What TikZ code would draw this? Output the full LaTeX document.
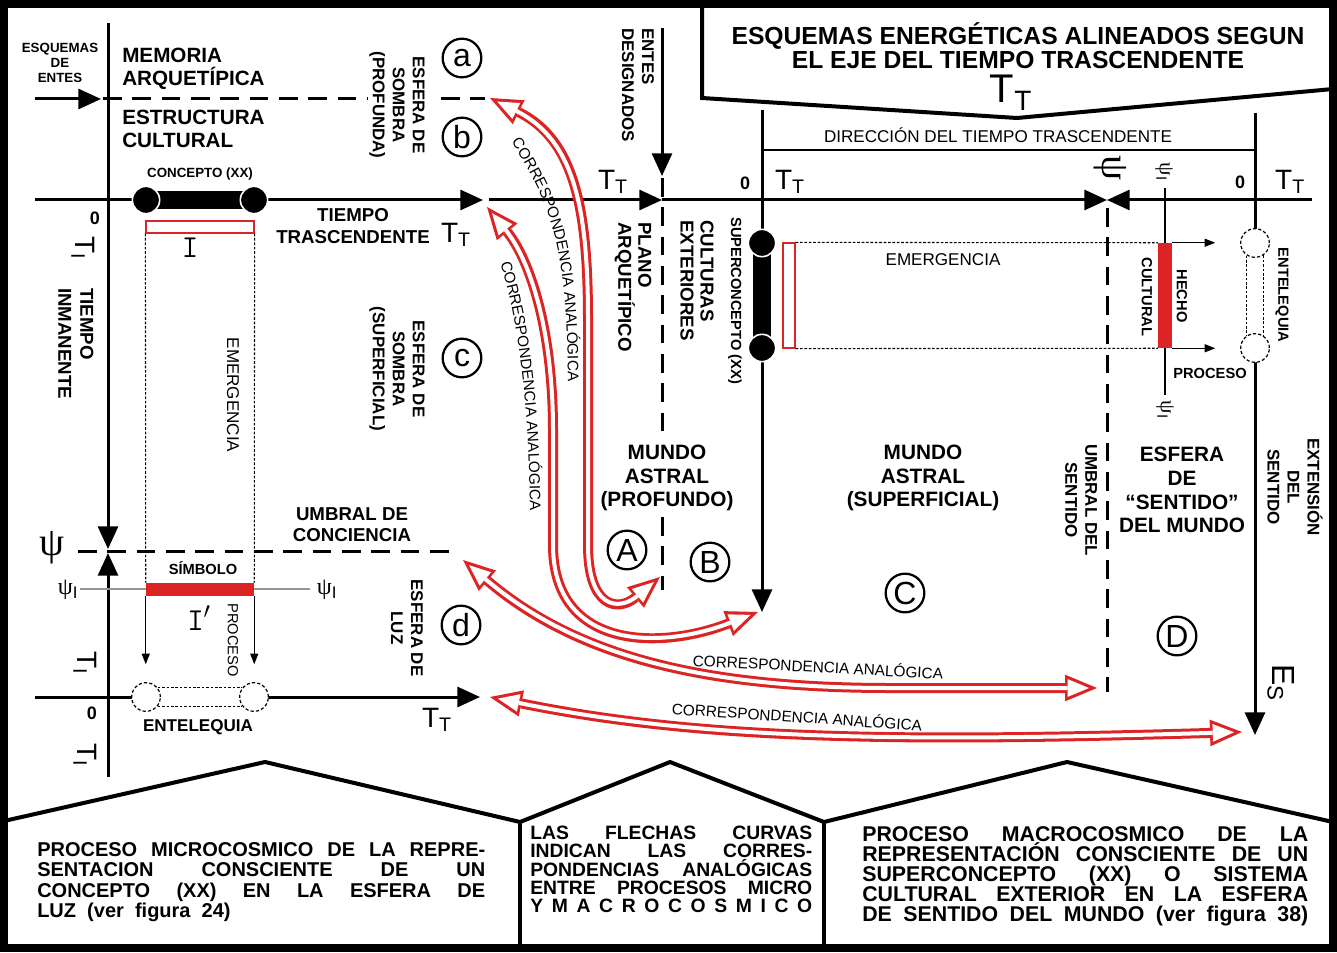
\documentclass[tikz,border=0pt]{standalone}
\usepackage{fontspec}
\setmainfont{Liberation Sans}
\newfontfamily\griega{Liberation Serif}
\usetikzlibrary{arrows.meta,decorations.text}

\definecolor{rojo}{RGB}{221,36,36}
\definecolor{gris}{RGB}{150,150,150}

\newcommand{\Tsub}[1]{T\textsubscript{#1}}
\newcommand{\fsz}[2]{\fontsize{#1}{#2}\selectfont}
\newcommand{\renglon}[2]{\makebox[#1][s]{#2}}
\newcommand{\psiI}{{\griega ψ}\textsubscript{I}}

\tikzset{
	eje/.style={line width=2.25pt},
	flecha/.style={eje, -{Triangle[length=17pt,width=15pt]}},
	flechita/.style={line width=0.9pt, -{Triangle[length=8pt,width=6pt]}},
	umbral/.style={line width=2.25pt, dash pattern=on 14pt off 8pt},
	fino/.style={line width=0.9pt},
	punteado/.style={line width=0.8pt, dash pattern=on 2pt off 1.3pt},
	bola/.style={circle, fill=black, draw=white, line width=1.2pt, minimum size=20.5pt, inner sep=0pt},
	hueca/.style={circle, fill=white, draw=black, line width=0.9pt, dash pattern=on 2.4pt off 1.6pt, minimum size=21.5pt, inner sep=0pt},
	barra/.style={line width=13pt},
	letra/.style={circle, draw, line width=1.7pt, minimum size=29pt, inner sep=0pt, font=\fsz{24pt}{24pt}},
	rot/.style={rotate=-90},
	negra/.style={inner sep=0pt, align=center, font=\bfseries\fsz{14pt}{17pt}},
	cero/.style={inner sep=0pt, font=\bfseries\fsz{13.5pt}{13.5pt}},
	tiempo/.style={inner sep=0pt, font=\fsz{21pt}{21pt}},
	corr/.style={draw=rojo, line width=7.5pt, {Triangle[length=24pt,width=20pt,line width=0pt]}-{Triangle[length=24pt,width=20pt,line width=0pt]}},
	corrin/.style={draw=white, line width=3pt, shorten <=6pt, shorten >=6pt, {Triangle[length=16pt,width=13.3pt,line width=0pt]}-{Triangle[length=16pt,width=13.3pt,line width=0pt]}},
	marco/.style={line width=3pt, line join=miter},
	rotulo/.style={decorate, decoration={text along path, text align=center, text={|\fsz{11.5pt}{11.5pt}|CORRESPONDENCIA ANALÓGICA}}},
}

\begin{document}
\begin{tikzpicture}[x=0.75pt,y=0.75pt,yscale=-1,xscale=1]
	\useasboundingbox (0,0) rectangle (1337,952);
	\fill[white] (0,0) rectangle (1337,952);

	% Frame
	\draw[line width=6pt] (4,4) rectangle (1333,948);
	\draw[marco] (702,4) -- (702,98) -- (1017,118) -- (1333,89);
	\draw[marco] (4,821) -- (265,762) -- (520,822) -- (670,762) -- (824,822) -- (1067,762) -- (1333,822);
	\draw[marco] (520,822) -- (520,948);
	\draw[marco] (824,822) -- (824,948);

	% Coordinates
	\coordinate (entesIzq) at (35,99);
	\coordinate (entesDer) at (101,99);
	\coordinate (memIzq) at (103,99);
	\coordinate (memCorteA) at (368,99);
	\coordinate (memCorteB) at (441,99);
	\coordinate (memDer) at (485,99);
	\coordinate (inmArriba) at (108,23);
	\coordinate (inmPsiA) at (108,549);
	\coordinate (inmPsiB) at (108,553);
	\coordinate (inmAbajo) at (108,777);
	\coordinate (conIzq) at (78,551);
	\coordinate (conDer) at (458,551);
	\coordinate (trasIzq) at (35,200);
	\coordinate (trasA) at (483,200);
	\coordinate (trasB) at (489,200);
	\coordinate (trasPlano) at (662,200);
	\coordinate (trasUmbral) at (1107,200);
	\coordinate (trasDer) at (1312,200);
	\coordinate (desigArriba) at (662,28);
	\coordinate (desigAbajo) at (662,176);
	\coordinate (planoArriba) at (662,178);
	\coordinate (planoCorteA) at (662,436);
	\coordinate (planoCorteB) at (662,517);
	\coordinate (planoAbajo) at (662,590);
	\coordinate (superArriba) at (762,110);
	\coordinate (superAbajo) at (762,612);
	\coordinate (extArriba) at (1255,113);
	\coordinate (extAbajo) at (1255,735);
	\coordinate (sentArriba) at (1107,208);
	\coordinate (sentAbajo) at (1107,692);
	\coordinate (dirIzq) at (762,150);
	\coordinate (dirDer) at (1255,150);
	\coordinate (luzIzq) at (35,697);
	\coordinate (luzDer) at (480,697);
	\coordinate (psiIzq) at (80,589);
	\coordinate (psiDer) at (310,589);

	% Connection
	\draw[flecha] (entesIzq) -- (entesDer);
	\draw[umbral] (memIzq) -- (memCorteA);
	\draw[umbral] (memCorteB) -- (memDer);
	\draw[flecha] (inmArriba) -- (inmPsiA);
	\draw[flecha] (inmAbajo) -- (inmPsiB);
	\draw[umbral] (conIzq) -- (conDer);
	\draw[flecha] (trasIzq) -- (trasA);
	\draw[flecha] (trasB) -- (trasPlano);
	\draw[flecha] (trasPlano) -- (trasUmbral);
	\draw[flecha] (trasDer) -- (trasUmbral);
	\draw[flecha] (desigArriba) -- (desigAbajo);
	\draw[umbral] (planoArriba) -- (planoCorteA);
	\draw[umbral] (planoCorteB) -- (planoAbajo);
	\draw[flecha] (superArriba) -- (superAbajo);
	\draw[flecha] (extArriba) -- (extAbajo);
	\draw[umbral] (sentArriba) -- (sentAbajo);
	\draw[fino] (dirIzq) -- (dirDer);
	\draw[flecha] (luzIzq) -- (luzDer);
	\draw[gris, line width=0.8pt] (psiIzq) -- (psiDer);

	% Concepto (XX)
	\coordinate (conceptoA) at (146,200);
	\coordinate (conceptoB) at (254,200);
	\draw[barra] (conceptoA) -- (conceptoB);
	\node[bola] (bolaA) at (conceptoA) {};
	\node[bola] (bolaB) at (conceptoB) {};
	\node[draw=rojo, line width=0.9pt, minimum width=81pt, minimum height=9pt, inner sep=0pt] (conceptoI) at (200,227) {};
	\node[fill=rojo, minimum width=81pt, minimum height=9.75pt, inner sep=0pt] (simboloBar) at (200,589.5) {};
	\draw[punteado] (conceptoI.south west) -- (simboloBar.north west);
	\draw[punteado] (conceptoI.south east) -- (simboloBar.north east);
	\draw[flechita] (simboloBar.south west) -- ++(0,68);
	\draw[flechita] (simboloBar.south east) -- ++(0,68);

	% Entelequia (micro)
	\fill[white] (146,688) rectangle (254,706);
	\node[hueca] (entA) at (146,697) {};
	\node[hueca] (entB) at (254,697) {};
	\draw[punteado] (entA.38) -- (entB.142);
	\draw[punteado] (entA.-38) -- (entB.-142);

	% Superconcepto (XX)
	\coordinate (superA) at (762,243);
	\coordinate (superB) at (762,348);
	\draw[barra] (superA) -- (superB);
	\node[bola] (bolaC) at (superA) {};
	\node[bola] (bolaD) at (superB) {};
	\node[draw=rojo, line width=0.9pt, minimum width=9pt, minimum height=78.75pt, inner sep=0pt] (superI) at (789,295.5) {};
	\node[fill=rojo, minimum width=10.5pt, minimum height=78.75pt, inner sep=0pt] (hechoBar) at (1165,295.5) {};
	\draw[punteado] (superI.north east) -- (hechoBar.north west);
	\draw[punteado] (superI.south east) -- (hechoBar.south west);
	\draw[flechita] (hechoBar.north east) -- ++(43,0);
	\draw[flechita] (hechoBar.south east) -- ++(43,0);
	\draw[fino] (hechoBar.north) -- ++(0,-55);
	\draw[fino] (hechoBar.south) -- ++(0,47);

	% Entelequia (macro)
	\fill[white] (1247,243) rectangle (1263,348);
	\node[hueca] (entC) at (1255,243) {};
	\node[hueca] (entD) at (1255,348) {};
	\draw[punteado] (entC.-123.5) -- (entD.123.5);
	\draw[punteado] (entC.-56.5) -- (entD.56.5);

	% Correspondencias
	\coordinate (corrA1) at (490,98);
	\coordinate (corrA2) at (660,577);
	\coordinate (corrB1) at (487,207);
	\coordinate (corrB2) at (758,612);
	\coordinate (corrC1) at (463,560);
	\coordinate (corrC2) at (1097,688);
	\coordinate (corrD1) at (490,697);
	\coordinate (corrD2) at (1242,732);
	\foreach \trazo in {corr,corrin}{
		\draw[\trazo] (corrA1) .. controls (575,140) and (588,210) .. (588,320) -- (588,545) .. controls (588,608) and (618,612) .. (corrA2);
		\draw[\trazo] (corrB1) .. controls (530,260) and (553,330) .. (553,430) -- (553,545) .. controls (553,650) and (660,650) .. (corrB2);
		\draw[\trazo] (corrC1) .. controls (575,655) and (700,688) .. (890,688) -- (corrC2);
		\draw[\trazo] (corrD1) .. controls (700,740) and (900,742) .. (corrD2);
	}
	\coordinate (rotA1) at (512,143);
	\coordinate (rotAc1) at (552,205);
	\coordinate (rotAc2) at (567,250);
	\coordinate (rotA2) at (568,380);
	\coordinate (rotB1) at (500,262);
	\coordinate (rotBc1) at (518,320);
	\coordinate (rotBc2) at (529,400);
	\coordinate (rotB2) at (530,512);
	\begin{scope}[yscale=-1]
		\path[rotulo] (rotA1) .. controls (rotAc1) and (rotAc2) .. (rotA2);
		\path[rotulo] (rotB1) .. controls (rotBc1) and (rotBc2) .. (rotB2);
	\end{scope}
	\node[inner sep=0pt, rotate=-3, font=\fsz{11.5pt}{11.5pt}] (rotC) at (818,666) {CORRESPONDENCIA ANALÓGICA};
	\node[inner sep=0pt, rotate=-3.8, font=\fsz{11.5pt}{11.5pt}] (rotD) at (797,716) {CORRESPONDENCIA ANALÓGICA};

	% Text Node
	\node[negra, font=\bfseries\fsz{18.5pt}{18pt}] (titulo) at (1018,46) {ESQUEMAS ENERGÉTICAS ALINEADOS SEGUN\\EL EJE DEL TIEMPO TRASCENDENTE};
	\node[tiempo, font=\fsz{30pt}{30pt}] (ttTitulo) at (1011,93) {\Tsub{T}};
	\node[negra, font=\bfseries\fsz{10pt}{11.25pt}] (esquemas) at (60,63) {ESQUEMAS\\DE\\ENTES};
	\node[negra, anchor=west, align=left, font=\bfseries\fsz{15.5pt}{17.25pt}] (memoria) at (122,68.5) {MEMORIA\\ARQUETÍPICA};
	\node[negra, anchor=west, align=left, font=\bfseries\fsz{15.5pt}{17.25pt}] (estructura) at (122,128.5) {ESTRUCTURA\\CULTURAL};
	\node[negra, font=\bfseries\fsz{10pt}{10pt}] (concepto) at (200,174) {CONCEPTO (XX)};
	\node[negra, font=\bfseries\fsz{14pt}{16.5pt}] (trascendente) at (353,226) {TIEMPO\\TRASCENDENTE};
	\node[tiempo] (ttA) at (456,235) {\Tsub{T}};
	\node[cero] (ceroA) at (95,218) {0};
	\node[tiempo, rot] (tiA) at (83,248) {\Tsub{I}};
	\node[negra, rot, anchor=west, align=left, font=\bfseries\fsz{14pt}{16.5pt}] (inmanente) at (76,288) {TIEMPO\\INMANENTE};
	\node[tiempo, rot] (tiB) at (85,663) {\Tsub{I}};
	\node[tiempo, rot] (tiC) at (85,755) {\Tsub{I}};
	\node[inner sep=0pt, font=\griega\fsz{30pt}{30pt}] (psiA) at (52,548) {ψ};
	\node[inner sep=0pt, font=\fsz{18pt}{18pt}] (psiB) at (68,590) {\psiI};
	\node[inner sep=0pt, font=\fsz{18pt}{18pt}] (psiC) at (327,590) {\psiI};
	\node[inner sep=0pt, font=\ttfamily\fsz{24pt}{24pt}] (ivA) at (190,248) {I};
	\node[inner sep=0pt, font=\ttfamily\fsz{24pt}{24pt}] (ivB) at (199,618) {I$'$};
	\node[negra, font=\bfseries\fsz{11pt}{11pt}] (simbolo) at (203,568) {SÍMBOLO};
	\node[inner sep=0pt, rot, font=\fsz{12.8pt}{12.8pt}] (emergA) at (233,395) {EMERGENCIA};
	\node[inner sep=0pt, rot, font=\fsz{11pt}{11pt}] (procA) at (233,640) {PROCESO};
	\node[negra, font=\bfseries\fsz{12.8pt}{12.8pt}] (entelA) at (198,727) {ENTELEQUIA};
	\node[cero] (ceroB) at (92,713) {0};
	\node[tiempo] (ttB) at (437,720) {\Tsub{T}};
	\node[negra, font=\bfseries\fsz{14pt}{15.75pt}] (umbralC) at (352,525) {UMBRAL DE\\CONCIENCIA};
	\node[negra, rot, font=\bfseries\fsz{12.7pt}{15pt}] (sombraP) at (397,105) {ESFERA DE\\SOMBRA\\(PROFUNDA)};
	\node[negra, rot, font=\bfseries\fsz{12.7pt}{15pt}] (sombraS) at (397,369) {ESFERA DE\\SOMBRA\\(SUPERFICIAL)};
	\node[negra, rot, font=\bfseries\fsz{12.7pt}{15pt}] (luz) at (407,628) {ESFERA DE\\LUZ};
	\node[letra] (la) at (462,58) {a};
	\node[letra] (lb) at (462,137) {b};
	\node[letra] (lc) at (462,358) {c};
	\node[letra] (ld) at (461,625) {d};
	\node[negra, rot, anchor=west, align=left, font=\bfseries\fsz{12.7pt}{15pt}] (designados) at (638,28) {ENTES\\DESIGNADOS};
	\node[tiempo] (ttC) at (613,182) {\Tsub{T}};
	\node[negra, rot, anchor=west, align=left, font=\bfseries\fsz{14pt}{15pt}] (plano) at (633,222) {PLANO\\ARQUETÍPICO};
	\node[negra, rot, anchor=west, align=left, font=\bfseries\fsz{14pt}{15pt}] (culturas) at (697,220) {CULTURAS\\EXTERIORES};
	\node[negra, rot, anchor=west, font=\bfseries\fsz{11pt}{11pt}] (supercon) at (735,217) {SUPERCONCEPTO (XX)};
	\node[cero] (ceroC) at (745,183) {0};
	\node[tiempo] (ttD) at (790,182) {\Tsub{T}};
	\node[negra, font=\bfseries\fsz{15.6pt}{17.6pt}] (astralP) at (667,478) {MUNDO\\ASTRAL\\(PROFUNDO)};
	\node[negra, font=\bfseries\fsz{15.6pt}{17.6pt}] (astralS) at (923,478) {MUNDO\\ASTRAL\\(SUPERFICIAL)};
	\node[letra] (lA) at (627,550) {A};
	\node[letra] (lB) at (710,562) {B};
	\node[letra] (lC) at (905,593) {C};
	\node[letra] (lD) at (1177,636) {D};
	\node[inner sep=0pt, font=\fsz{12.8pt}{12.8pt}] (direccion) at (998,135) {DIRECCIÓN DEL TIEMPO TRASCENDENTE};
	\node[inner sep=0pt, font=\fsz{12.8pt}{12.8pt}] (emergB) at (943,260) {EMERGENCIA};
	\node[negra, rot, font=\bfseries\fsz{11pt}{11pt}] (hecho) at (1182,296) {HECHO};
	\node[negra, rot, font=\bfseries\fsz{11pt}{11pt}] (cultural) at (1147,297) {CULTURAL};
	\node[negra, font=\bfseries\fsz{11pt}{11pt}] (procB) at (1210,373) {PROCESO};
	\node[negra, rot, font=\bfseries\fsz{11pt}{11pt}] (entelB) at (1282,295) {ENTELEQUIA};
	\node[cero] (ceroD) at (1240,182) {0};
	\node[tiempo] (ttE) at (1290,182) {\Tsub{T}};
	\node[inner sep=0pt, rot, font=\griega\fsz{30pt}{30pt}] (psiD) at (1110,168) {ψ};
	\node[inner sep=0pt, rot, font=\fsz{16pt}{16pt}] (psiE) at (1164,172) {\psiI};
	\node[inner sep=0pt, rot, font=\fsz{16pt}{16pt}] (psiF) at (1165,410) {\psiI};
	\node[negra, rot, font=\bfseries\fsz{12.7pt}{15pt}] (umbralS) at (1081,500) {UMBRAL DEL\\SENTIDO};
	\node[negra, font=\bfseries\fsz{15.6pt}{17.8pt}] (esferaS) at (1182,490) {ESFERA\\DE\\“SENTIDO”\\DEL MUNDO};
	\node[negra, rot, font=\bfseries\fsz{12.7pt}{15pt}] (extension) at (1295,487) {EXTENSIÓN\\DEL\\SENTIDO};
	\node[tiempo, rot, font=\fsz{24pt}{24pt}] (es) at (1281,683) {E\textsubscript{S}};

	% Text Node (paneles)
	\node[anchor=west, inner sep=0pt, align=left, font=\bfseries\fsz{15pt}{15.2pt}] (microcosmo) at (37,882) {\renglon{336pt}{PROCESO MICROCOSMICO DE LA REPRE-}\\\renglon{336pt}{SENTACION CONSCIENTE DE UN}\\\renglon{336pt}{CONCEPTO (XX) EN LA ESFERA DE}\\LUZ\ \ (ver\ \ figura\ \ 24)};
	\node[anchor=west, inner sep=0pt, align=left, font=\bfseries\fsz{14.5pt}{13.7pt}] (flechas) at (530,869.5) {\renglon{211.5pt}{LAS FLECHAS CURVAS}\\\renglon{211.5pt}{INDICAN LAS CORRES-}\\\renglon{211.5pt}{PONDENCIAS ANALÓGICAS}\\\renglon{211.5pt}{ENTRE PROCESOS MICRO}\\\renglon{211.5pt}{Y M A C R O C O S M I C O}};
	\node[anchor=west, inner sep=0pt, align=left, font=\bfseries\fsz{16pt}{15pt}] (macrocosmo) at (862,876) {\renglon{334.5pt}{PROCESO MACROCOSMICO DE LA}\\\renglon{334.5pt}{REPRESENTACIÓN CONSCIENTE DE UN}\\\renglon{334.5pt}{SUPERCONCEPTO (XX) O SISTEMA}\\\renglon{334.5pt}{CULTURAL EXTERIOR EN LA ESFERA}\\\renglon{334.5pt}{DE SENTIDO DEL MUNDO (ver figura 38)}};

\end{tikzpicture}
\end{document}
